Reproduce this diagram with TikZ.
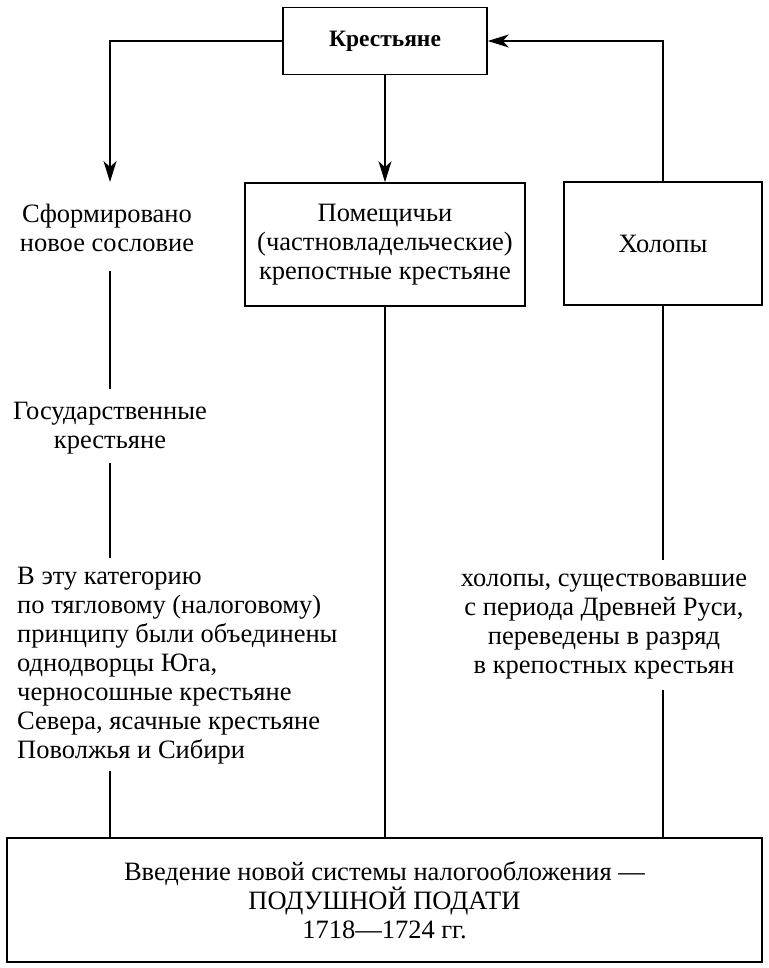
\documentclass[tikz,border=0pt]{standalone}
\usepackage{fontspec}
\setmainfont{Liberation Serif}
\usetikzlibrary{arrows.meta,positioning,calc}

\begin{document}
\begin{tikzpicture}[
    x=1pt, y=-1pt,
    box/.style={rectangle, draw, line width=1.6pt, align=center, inner sep=0pt,
        font=\fontsize{26.5}{29}\selectfont},
    note/.style={inner sep=0pt, font=\fontsize{26.5}{29}\selectfont},
    arrow/.style={-{Stealth[length=21pt,width=13pt,inset=6pt]}, line width=1.5pt},
    link/.style={line width=1.5pt}
]
\useasboundingbox (0,0) rectangle (768,968);

% Top box
\node[box, minimum width=204pt, minimum height=67pt,
    font=\bfseries\fontsize{23.5}{29}\selectfont] (krest) at (385,41) {Крестьяне};

% Second row
\node[box, minimum width=280pt, minimum height=123pt] (pom) at (385,244.5) {Помещичьи\\
(частновладельческие)\\
крепостные крестьяне};

\node[box, minimum width=198pt, minimum height=123pt] (holop) at (663,243.5) {Холопы};

\coordinate (tipL) at (110,182);

\node[note, align=center] (sform) at (107,228) {Сформировано\\новое сословие};

% Left column
\node[note, align=center] (gos) at (110,428) {Государственные\\крестьяне};

\node[note, align=left, anchor=west] (vetu) at (17,666) {В эту категорию\\
по тягловому (налоговому)\\
принципу были объединены\\
однодворцы Юга,\\
черносошные крестьяне\\
Севера, ясачные крестьяне\\
Поволжья и Сибири};

% Right column
\node[note, align=center] (holtext) at (604,626.5) {холопы, существовавшие\\
с периода Древней Руси,\\
переведены в разряд\\
в крепостных крестьян};

% Bottom box
\node[box, minimum width=755pt, minimum height=124pt] (podat) at (384.5,900) {Введение новой системы налогообложения ---\\
ПОДУШНОЙ ПОДАТИ\\
1718---1724 гг.};

% Arrows
\draw[arrow] (krest.west) -| (tipL);
\draw[arrow] (krest.south) -- (pom.north);
\draw[arrow] (holop.north) |- (krest.east);

% Lines
\draw[link, shorten <=19pt, shorten >=13pt] (sform.south -| tipL) -- (gos.north -| tipL);
\draw[link, shorten <=9pt, shorten >=9pt] (gos.south -| tipL) -- (vetu.north -| tipL);
\draw[link, shorten <=6pt] (vetu.south -| tipL) -- (podat.north -| tipL);
\draw[link] (pom.south) -- (podat.north -| pom.south);
\draw[link, shorten >=14pt] (holop.south) -- (holtext.north -| holop.south);
\draw[link, shorten <=11pt] (holtext.south -| holop.south) -- (podat.north -| holop.south);

\end{tikzpicture}
\end{document}
